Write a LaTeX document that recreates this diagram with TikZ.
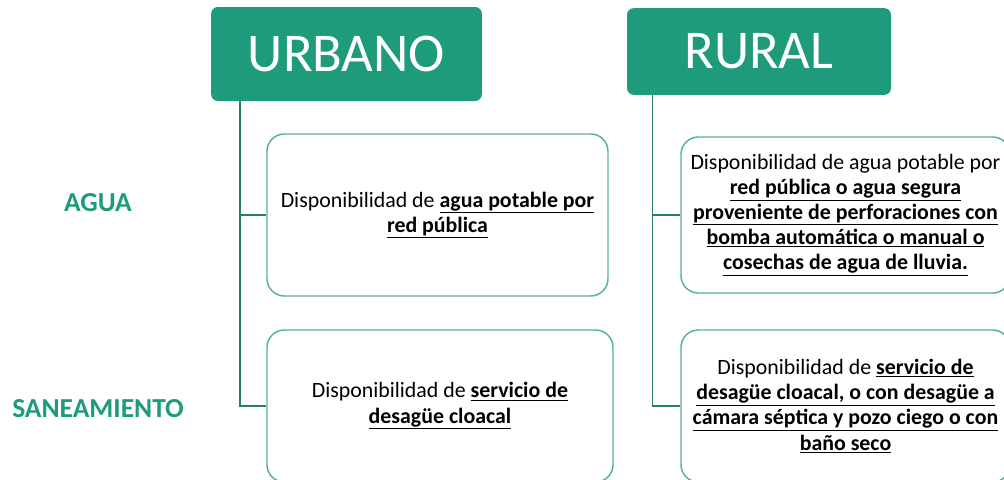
\documentclass[tikz,border=0pt]{standalone}
\usepackage{fontspec}
\setmainfont{Carlito}
\usetikzlibrary{positioning}
\definecolor{my_green}{RGB}{30,155,122}
\definecolor{my_edge}{RGB}{86,180,146}
\definecolor{my_line}{RGB}{42,128,102}
\tikzset{
  headnode/.style = {draw=none, fill=my_green, text=white, rounded corners=5pt, inner sep=0pt,
  font=\fontsize{41}{48}\selectfont},
  infonode/.style = {draw=my_edge, line width=1.1pt, fill=white, rounded corners=13pt, align=center,
  inner sep=0pt, font=\fontsize{16.4}{18.9}\selectfont},
  rownode/.style = {text=my_green, font=\bfseries\fontsize{20.6}{24}\selectfont},
  link/.style = {draw=my_line, line width=0.9pt}
}
\newcommand{\ubf}[1]{\underline{\textbf{#1}}}

\begin{document}
\begin{tikzpicture}[x=0.75pt, y=-0.75pt]
    \useasboundingbox (0,0) rectangle (1004,479);
    \clip (0,0) rectangle (1004,479);
    % column heads
    \node [headnode, minimum width=203pt, minimum height=70.5pt] (urbano) at (346.5,54) {URBANO};
    \node [headnode, minimum width=198pt, minimum height=65pt] (rural) at (759,51.5) {RURAL};
    % row labels
    \node [rownode] (agua) at (98,203) {AGUA};
    \node [rownode] (sanea) at (98,409) {SANEAMIENTO};
    % urban boxes
    \node [infonode, minimum width=255.75pt, minimum height=121.5pt] (ua) at (437.5,215)
        {Disponibilidad de \ubf{agua potable por}\\ \ubf{red pública}};
    \node [infonode, minimum width=259.5pt, minimum height=114pt] (us) at (440,406)
        {Disponibilidad de \ubf{servicio de}\\ \ubf{desagüe cloacal}};
    % rural boxes
    \node [infonode, minimum width=246.75pt, minimum height=117pt] (ra) at (845.5,215)
        {Disponibilidad de agua potable por\\ \ubf{red pública o agua segura}\\
        \ubf{proveniente de perforaciones con}\\ \ubf{bomba automática o manual o}\\
        \ubf{cosechas de agua de lluvia.}};
    \node [infonode, minimum width=246.75pt, minimum height=114pt] (rs) at (845.5,406)
        {Disponibilidad de \ubf{servicio de}\\ \ubf{desagüe cloacal, o con desagüe a}\\
        \ubf{cámara séptica y pozo ciego o con}\\ \ubf{baño seco}};
    % connectors
    \coordinate (uroot) at ([xshift=21.75pt]urbano.south west);
    \coordinate (rroot) at ([xshift=19.5pt]rural.south west);
    \draw [link] (uroot) |- (ua.west);
    \draw [link] (uroot) |- (us.west);
    \draw [link] (rroot) |- (ra.west);
    \draw [link] (rroot) |- (rs.west);
\end{tikzpicture}
\end{document}
